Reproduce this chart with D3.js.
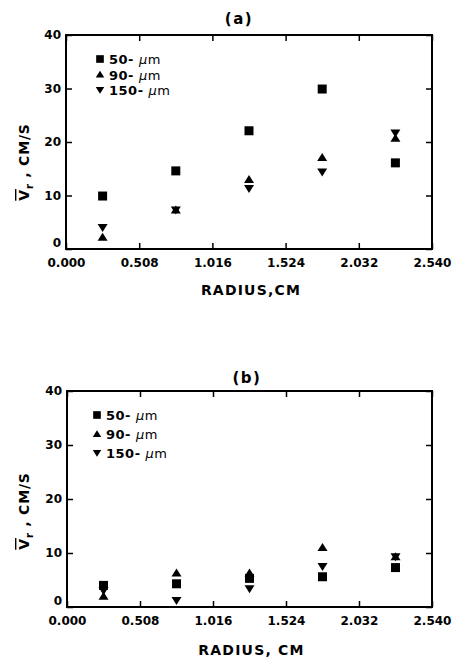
<!DOCTYPE html>
<html><head><meta charset="utf-8">
<script src="https://cdn.jsdelivr.net/npm/d3@7"></script>
<style>
body{margin:0;background:#fff;}
svg{display:block;}
text{font-family:"DejaVu Sans","Liberation Sans",Arial,sans-serif;fill:#000;}
</style></head>
<body><svg id="c" width="462" height="664"></svg>
<script>
// ---- data ----
const radius = [0.254, 0.762, 1.270, 1.778, 2.286];
const xTicks = [0.000, 0.508, 1.016, 1.524, 2.032, 2.540];
const yTicks = [0, 10, 20, 30, 40];
const seriesNums = ["50-", "90-", "150-"];
const seriesNumsB = ["50- ", "90- ", "150-"];
const a50 = [9.9, 14.6, 22.1, 29.9, 16.1];
const a90 = [2.2, 7.3, 13.0, 17.1, 20.7];
const a150 = [4.0, 7.3, 11.3, 14.4, 21.7];
const b50 = [4.0, 4.3, 5.3, 5.6, 7.3];
const b90 = [2.0, 6.3, 6.3, 11.0, 9.3];
const b150 = [3.0, 1.2, 3.4, 7.5, 9.3];

const svg = d3.select("#c");

function marker(kind) {
  if (kind === 0) return "M-4.5,-4.5H4.5V4.5H-4.5Z";
  if (kind === 1) return "M0,-4.5L5,3.5H-5Z";
  return "M0,4.5L5,-3.5H-5Z";
}

function panel(o) {
  const x = d3.scaleLinear().domain([0, 2.540]).range([o.left, o.right]);
  const y = d3.scaleLinear().domain([0, 40]).range([o.bottom, o.top]);
  const g = svg.append("g");
  const fmt = d3.format(".3f");
  const styleLbl = s => s.selectAll("text").attr("font-size", 12).attr("font-weight", "bold").attr("font-family", "DejaVu Sans");
  // axes
  g.append("g").attr("transform", `translate(0,${o.bottom})`)
    .call(d3.axisBottom(x).tickValues(xTicks).tickFormat(d => fmt(d)).tickSize(-6).tickPadding(9))
    .call(s => { s.select(".domain").remove(); styleLbl(s); s.selectAll("line").attr("stroke-width", 1.5); });
  g.append("g").attr("transform", `translate(${o.left},0)`)
    .call(d3.axisLeft(y).tickValues(yTicks).tickSize(-6).tickPadding(5))
    .call(s => {
      s.select(".domain").remove(); styleLbl(s); s.selectAll("line").attr("stroke-width", 1.5);
      s.selectAll(".tick").filter(d => d === 0).select("text").attr("dy", "-0.2em");
    });
  g.append("g").attr("transform", `translate(0,${o.top})`)
    .call(d3.axisTop(x).tickValues(xTicks).tickFormat("").tickSize(-6))
    .call(s => { s.select(".domain").remove(); s.selectAll("line").attr("stroke-width", 1.5); });
  g.append("g").attr("transform", `translate(${o.right},0)`)
    .call(d3.axisRight(y).tickValues(yTicks).tickFormat("").tickSize(-6))
    .call(s => { s.select(".domain").remove(); s.selectAll("line").attr("stroke-width", 1.5); });
  g.append("rect").attr("x", o.left).attr("y", o.top)
    .attr("width", o.right - o.left).attr("height", o.bottom - o.top)
    .attr("fill", "none").attr("stroke", "#000").attr("stroke-width", 2);
  // title
  g.append("text").attr("x", o.titleX).attr("y", o.titleY).attr("text-anchor", "middle")
    .attr("font-size", 15).attr("font-weight", "bold").attr("letter-spacing", 1.5).text(o.title);
  // x label
  g.append("text").attr("x", (o.left + o.right) / 2 + 2).attr("y", o.bottom + o.xlabOff).attr("text-anchor", "middle")
    .attr("font-size", 14).attr("font-weight", "bold").attr("letter-spacing", 1.2).text(o.xlab);
  // y label
  const yl = g.append("text").attr("transform", `translate(29,${o.ylabY}) rotate(-90)`)
    .attr("text-anchor", "middle").attr("font-size", 14).attr("font-weight", "bold").attr("letter-spacing", 0.8);
  yl.append("tspan").attr("text-decoration", "overline").text("V");
  yl.append("tspan").attr("font-size", 10).attr("dy", 4).text("r");
  yl.append("tspan").attr("dy", -4).text(" ,  CM/S");
  // data
  o.series.forEach((vals, k) => {
    g.append("g").selectAll("path").data(vals).join("path")
      .attr("transform", (d, i) => `translate(${x(radius[i])},${y(d)})`)
      .attr("d", marker(k)).attr("fill", "#000");
  });
  // legend
  o.names.forEach((n, k) => {
    const ly = o.legY + k * o.legStep;
    g.append("path").attr("d", marker(k)).attr("fill", "#000")
      .attr("transform", `translate(${o.legX},${ly}) scale(0.85)`);
    const t = g.append("text").attr("x", o.legX + 9).attr("y", ly + 5).attr("font-size", 13)
      .attr("font-weight", "bold").attr("letter-spacing", 0.5);
    t.append("tspan").text(n + " ");
    t.append("tspan").attr("font-style", "italic").attr("font-weight", "normal").text("\u00b5");
    t.append("tspan").attr("font-weight", "normal").text("m");
  });
}

panel({left: 66, right: 432, top: 35, bottom: 249, title: "(a)", titleX: 239, titleY: 24, ylabY: 162,
  xlab: "RADIUS,CM", xlabOff: 46,
  series: [a50, a90, a150], names: seriesNums, legX: 100, legY: 59, legStep: 15.5});
panel({left: 67, right: 432, top: 391, bottom: 607, title: "(b)", titleX: 247, titleY: 383, ylabY: 511,
  xlab: "RADIUS, CM", xlabOff: 48,
  series: [b50, b90, b150], names: seriesNumsB, legX: 97, legY: 415, legStep: 19});
</script></body></html>
